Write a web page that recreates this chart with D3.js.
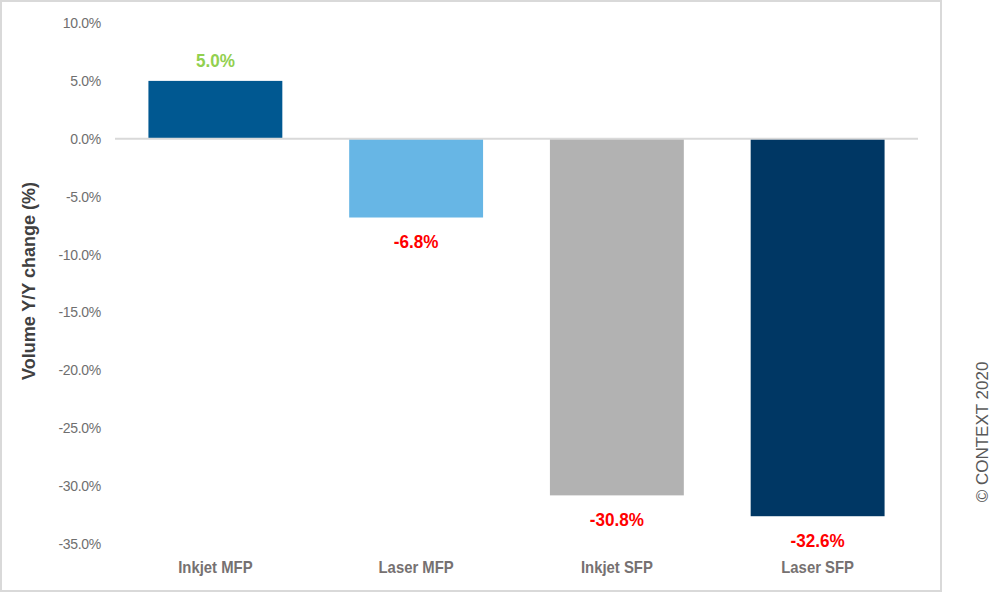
<!DOCTYPE html>
<html><head><meta charset="utf-8">
<script src="https://cdn.jsdelivr.net/npm/d3@7"></script>
<style>
body{margin:0;background:#fff;}
svg{display:block;}
</style></head>
<body>
<svg id="c" width="1006" height="593"></svg>
<script>
const categories = ["Inkjet MFP","Laser MFP","Inkjet SFP","Laser SFP"];
const values = [5.0,-6.8,-30.8,-32.6];
const barColors = ["#005891","#67b6e5","#b2b2b2","#003764"];
const yTicks = [10,5,0,-5,-10,-15,-20,-25,-30,-35];
const yTitle = "Volume Y/Y change (%)";
const credit = "© CONTEXT 2020";

const font = "'Liberation Sans',Arial,sans-serif";
const pct = d => d3.format(".1f")(d).replace("\u2212","-") + "%";
const svg = d3.select("#c");

// outer frame
svg.append("rect").attr("x",1).attr("y",1).attr("width",940).attr("height",590)
  .attr("fill","#fff").attr("stroke","#d9d9d9").attr("stroke-width",2);

const x = d3.scaleBand().domain(categories).range([115,918]).paddingInner(0.333).paddingOuter(0.1665);
const y = d3.scaleLinear().domain([-35,10]).range([544,23]);

// y tick labels
const yAxis = svg.append("g").attr("transform","translate(101,0)")
  .call(d3.axisLeft(y).tickValues(yTicks).tickSize(0).tickPadding(0).tickFormat(pct));
yAxis.select(".domain").remove();
yAxis.selectAll("text").attr("font-family",font).attr("font-size",14).attr("fill","#6f6f6f")
  .attr("letter-spacing","-0.3");

// bars
svg.append("g").selectAll("rect").data(values).join("rect")
  .attr("x",(d,i)=>x(categories[i])).attr("width",x.bandwidth())
  .attr("y",d=>y(Math.max(0,d))).attr("height",d=>Math.abs(y(d)-y(0)))
  .attr("fill",(d,i)=>barColors[i]);

// zero line
svg.append("line").attr("x1",115).attr("x2",918).attr("y1",y(0)).attr("y2",y(0))
  .attr("stroke","#d9d9d9").attr("stroke-width",2);

// value labels
svg.append("g").selectAll("text").data(values).join("text")
  .attr("transform",(d,i)=>`translate(${x(categories[i])+x.bandwidth()/2},${d>=0 ? y(d)-21 : y(d)+24}) scale(0.9,1)`)
  .attr("dy","0.35em").attr("text-anchor","middle")
  .attr("font-family",font).attr("font-weight","bold").attr("font-size",19)
  .attr("fill",d=> d>=0 ? "#92d050" : "#ff0000")
  .text(pct);

// category labels
const xAxis = svg.append("g").attr("transform","translate(0,567)")
  .call(d3.axisBottom(x).tickSize(0).tickPadding(0));
xAxis.select(".domain").remove();
xAxis.selectAll("text").attr("y",0).attr("dy","0.35em").attr("transform","scale(0.93,1)")
  .attr("font-family",font).attr("font-weight","bold")
  .attr("font-size",16).attr("fill","#767171");

// y title
svg.append("text").attr("transform","translate(29,281) rotate(-90)")
  .attr("text-anchor","middle").attr("dy","0.35em")
  .attr("font-family",font).attr("font-weight","bold").attr("font-size",18).attr("fill","#404040")
  .text(yTitle);

// credit
svg.append("text").attr("transform","translate(982,432) rotate(-90)")
  .attr("text-anchor","middle").attr("dy","0.35em")
  .attr("font-family",font).attr("font-size",17).attr("fill","#595959")
  .text(credit);
</script>
</body></html>
